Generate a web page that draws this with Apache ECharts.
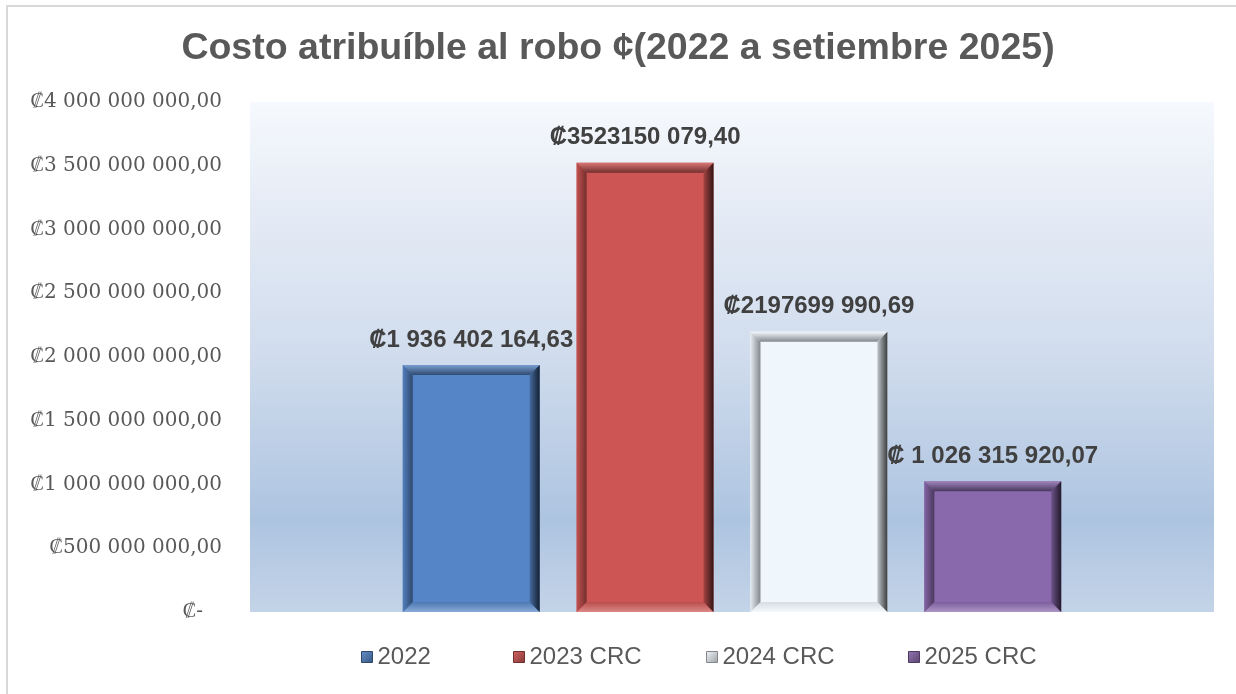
<!DOCTYPE html>
<html>
<head>
<meta charset="utf-8">
<script src="https://cdn.jsdelivr.net/npm/echarts@6/dist/echarts.min.js"></script>
<style>
  html, body { margin: 0; padding: 0; background: #fff; }
  #chart { width: 1236px; height: 694px; }
</style>
</head>
<body>
<div id="chart"></div>
<script>
const seriesNames = ['2022', '2023 CRC', '2024 CRC', '2025 CRC'];
const seriesValues = [1936402164.63, 3523150079.40, 2197699990.69, 1026315920.07];
const valueLabels = ['₡1 936 402 164,63', '₡3523150 079,40', '₡2197699 990,69', '₡ 1 026 315 920,07'];
const seriesColors = ['#5585c6', '#cd5553', '#eff6fc', '#8968ac'];
const yMax = 4000000000;
const yStep = 500000000;

const legendLeft = [356, 508, 701, 903];

// t < 0 darkens toward black, t > 0 lightens toward white
function shade(hex, t) {
  const n = parseInt(hex.slice(1), 16);
  const c = [n >> 16, (n >> 8) & 255, n & 255].map(v =>
    Math.round(t < 0 ? v * (1 + t) : v + (255 - v) * t));
  return 'rgb(' + c.join(',') + ')';
}

function grad(x1, y1, x2, y2, c1, c2) {
  return new echarts.graphic.LinearGradient(x1, y1, x2, y2, [
    { offset: 0, color: c1 },
    { offset: 1, color: c2 },
  ]);
}

function fmtAxis(v) {
  if (v === 0) return '₡-   ';
  const s = String(Math.round(v)).replace(/\B(?=(\d{3})+(?!\d))/g, ' ');
  return '₡' + s + ',00';
}

// bevelled bar, placed in the single category slot like a grouped bar
function makeRender(i) {
  return function (params, api) {
    const catW = api.size([1, 0])[0];
    const barW = catW * 0.142;
    const gap = barW * 0.27;
    const total = barW * 4 + gap * 3;
    const top = api.coord([api.value(0), api.value(1)]);
    const base = api.coord([api.value(0), 0]);
    const x = top[0] - total / 2 + i * (barW + gap);
    const y = top[1];
    const w = barW;
    const h = base[1] - top[1];
    const b = 10;
    const col = seriesColors[i];
    return {
      type: 'group',
      children: [
        { type: 'rect', shape: { x: x, y: y, width: w, height: h }, style: { fill: col } },
        { type: 'polygon', shape: { points: [[x, y], [x + w, y], [x + w - b, y + b], [x + b, y + b]] },
          style: { fill: grad(0, 0, 0, 1, shade(col, 0.2), shade(col, -0.45)) } },
        { type: 'polygon', shape: { points: [[x, y + h], [x + w, y + h], [x + w - b, y + h - b], [x + b, y + h - b]] },
          style: { fill: grad(0, 0, 0, 1, shade(col, -0.1), shade(col, 0.3)) } },
        { type: 'polygon', shape: { points: [[x, y], [x + b, y + b], [x + b, y + h - b], [x, y + h]] },
          style: { fill: grad(0, 0, 1, 0, shade(col, -0.05), shade(col, -0.45)) } },
        { type: 'polygon', shape: { points: [[x + w, y], [x + w - b, y + b], [x + w - b, y + h - b], [x + w, y + h]] },
          style: { fill: grad(0, 0, 1, 0, shade(col, -0.2), shade(col, -0.75)) } },
        { type: 'text', style: {
            text: valueLabels[i], x: x + w / 2, y: y - 13,
            align: 'center', verticalAlign: 'bottom',
            font: 'bold 24px "Liberation Sans", Arial, sans-serif', fill: '#404040' } },
      ],
    };
  };
}

const chart = echarts.init(document.getElementById('chart'));

chart.setOption({
  animation: false,
  backgroundColor: '#fff',
  title: {
    text: 'Costo atribuíble al robo ¢(2022 a setiembre 2025)',
    left: 'center',
    top: 30,
    padding: 0,
    textStyle: { fontFamily: '"Liberation Sans", Arial, sans-serif', fontSize: 37.5, fontWeight: 'bold', color: '#595959' },
  },
  graphic: [{
    type: 'rect',
    shape: { x: 7, y: 6, width: 1260, height: 720 },
    style: { fill: 'none', stroke: '#d9d9d9', lineWidth: 2 },
    silent: true,
  }],
  legend: seriesNames.map((n, i) => ({
    data: [{
      name: n,
      itemStyle: {
        color: grad(0, 0, 1, 1, shade(seriesColors[i], 0.1), shade(seriesColors[i], -0.35)),
        borderColor: shade(seriesColors[i], -0.45),
        borderWidth: 1,
      },
    }],
    left: legendLeft[i],
    top: 640,
    icon: 'rect',
    itemWidth: 11,
    itemHeight: 11,
    itemGap: 0,
    textStyle: { fontFamily: '"Liberation Sans", Arial, sans-serif', fontSize: 24, color: '#595959' },
  })),
  grid: {
    left: 250, right: 22, top: 102, bottom: 82,
    show: true,
    borderWidth: 0,
    backgroundColor: new echarts.graphic.LinearGradient(0, 0, 0, 1, [
      { offset: 0, color: '#f6f9fd' },
      { offset: 0.2, color: '#e6ecf6' },
      { offset: 0.5, color: '#d0dced' },
      { offset: 0.82, color: '#adc4e0' },
      { offset: 1, color: '#c4d4e8' },
    ]),
  },
  xAxis: {
    type: 'category',
    data: [''],
    axisLine: { show: false },
    axisTick: { show: false },
    axisLabel: { show: false },
  },
  yAxis: {
    type: 'value',
    min: 0,
    max: yMax,
    interval: yStep,
    axisLine: { show: false },
    axisTick: { show: false },
    splitLine: { show: false },
    axisLabel: {
      margin: 28,
      formatter: fmtAxis,
      fontFamily: '"DejaVu Serif", serif',
      fontSize: 20,
      color: '#595959',
    },
  },
  series: seriesNames.map((n, i) => ({
    name: n,
    type: 'custom',
    renderItem: makeRender(i),
    encode: { x: 0, y: 1 },
    itemStyle: { color: seriesColors[i] },
    data: [[0, seriesValues[i]]],
  })),
});
</script>
</body>
</html>
